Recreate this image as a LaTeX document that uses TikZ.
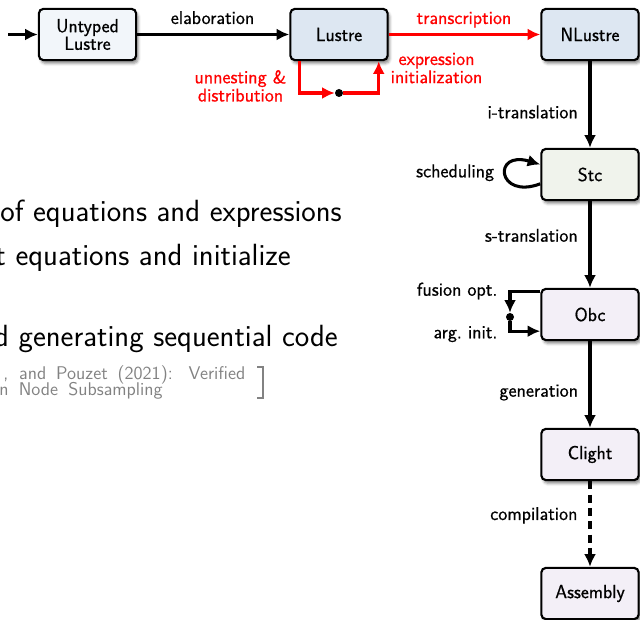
\documentclass[tikz,border=0pt]{standalone}
\usepackage{fontspec}
\setsansfont{Latin Modern Sans}
\newfontfamily\diagfont{Latin Modern Sans}[FakeBold=0.7]
\usetikzlibrary{arrows.meta,shadows.blur}

\definecolor{untypedfill}{RGB}{242,246,250}
\definecolor{lustrefill}{RGB}{221,231,242}
\definecolor{stcfill}{RGB}{240,243,236}
\definecolor{obcfill}{RGB}{243,239,247}
\definecolor{citegray}{RGB}{130,130,130}

\begin{document}
\begin{tikzpicture}[x=0.75pt,y=-0.75pt,
  lang/.style={draw, line width=1.6pt, rounded corners=3.5pt,
    minimum width=73pt, minimum height=38.5pt, align=center, inner sep=2pt,
    font=\diagfont\fontsize{14.3}{13.2}\selectfont,
    blur shadow={shadow xshift=1.5pt, shadow yshift=-2.5pt,
      shadow blur radius=2pt, shadow opacity=45}},
  pass/.style={line width=2.3pt, -{Latex[length=9.5pt,width=9pt]}},
  lbl/.style={font=\diagfont\fontsize{13.9}{13.3}\selectfont, inner sep=0pt},
  big/.style={font=\sffamily\fontsize{23}{26}\selectfont, inner sep=0pt},
  cite/.style={font=\sffamily\fontsize{13.8}{13}\selectfont, inner sep=0pt, text=citegray},
  junction/.style={circle, fill=black, inner sep=0pt, minimum size=6pt},
]
\useasboundingbox (0,0) rectangle (640,620);
\clip (0,0) rectangle (640,620);

% slide text behind the diagram
\node[big, anchor=base east] (t1) at (342,221.7) {of equations and expressions};
\node[big, anchor=base east] (t2) at (291,266) {t equations and initialize};
\node[big, anchor=base east] (t3) at (338,346.7) {d generating sequential code};
\node[cite, anchor=base west] (c1) at (3,379.3) {\makebox[181.5pt][s]{, and Pouzet (2021): Verified}};
\node[cite, anchor=base west] (c2) at (-1,396) {\makebox[122.5pt][s]{n Node Subsampling}};
\coordinate (b1) at (257,367);
\coordinate (b2) at (263,398);
\draw[citegray, line width=1pt] (b1) -| (b2) -- ++(-6,0);

% languages of the compilation chain
\node[lang, fill=untypedfill] (untyped) at (87.5,34.5) {Untyped\\Lustre};
\node[lang, fill=lustrefill] (lustre) at (339,34.5) {Lustre};
\node[lang, fill=lustrefill] (nlustre) at (590,34.5) {NLustre};
\node[lang, fill=stcfill] (stc) at (590,174.5) {Stc};
\node[lang, fill=obcfill] (obc) at (590,314.5) {Obc};
\node[lang, fill=obcfill] (clight) at (590,454.5) {Clight};
\node[lang, fill=obcfill] (asm) at (590,593.5) {Assembly};

% top row
\coordinate (src) at (8,34.5);
\draw[pass] (src) -- (untyped);
\draw[pass] (untyped) -- (lustre);
\node[lbl, anchor=base] (elab) at (212.5,24) {elaboration};
\draw[pass, red] (lustre) -- (nlustre);
\node[lbl, anchor=base, text=red] (transc) at (464,24) {transcription};

% normalization loop under Lustre
\node[junction] (jn) at (339,93) {};
\draw[pass, red] ([xshift=7.5pt]lustre.south west) |- (jn);
\draw[pass, red] (jn) -| ([xshift=-7.5pt]lustre.south east);
\node[lbl, anchor=base, text=red] (unnest) at (240.5,83.3)
  {\begin{tabular}[t]{@{}c@{}}unnesting \&\\distribution\end{tabular}};
\node[lbl, anchor=base, text=red] (exprinit) at (436.5,65)
  {\begin{tabular}[t]{@{}c@{}}expression\\initialization\end{tabular}};

% vertical chain
\draw[pass] (nlustre) -- (stc);
\node[lbl, anchor=base east] (itr) at (578,118.3) {i-translation};
\draw[pass] (stc) -- (obc);
\node[lbl, anchor=base east] (str) at (578,241.7) {s-translation};
\draw[pass] (obc) -- (clight);
\node[lbl, anchor=base east] (gen) at (578.3,396.7) {generation};
\draw[pass, dash pattern=on 6pt off 4pt] (clight) -- (asm);
\node[lbl, anchor=base east] (comp) at (577.7,520) {compilation};

% scheduling on Stc
\draw[pass] ([yshift=-7pt]stc.west) .. controls (497,200) and (492,150) .. ([yshift=7.5pt]stc.west);
\node[lbl, anchor=base east] (sched) at (494.3,177.3) {scheduling};

% fusion and argument initialization on Obc
\node[junction] (jo) at (510,317) {};
\draw[pass] ([yshift=17pt]obc.west) -| (jo);
\draw[pass] (jo) |- ([yshift=-12.5pt]obc.west);
\node[lbl, anchor=base east] (fus) at (497.7,295.7) {fusion opt.};
\node[lbl, anchor=base east] (arg) at (497.7,338.3) {arg.\ init.};
\end{tikzpicture}
\end{document}
